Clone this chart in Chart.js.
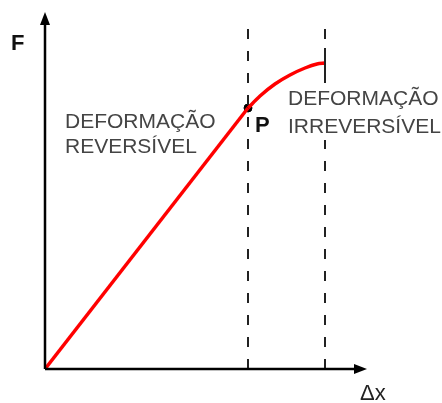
<!DOCTYPE html>
<html>
<head>
<meta charset="utf-8">
<script src="https://cdn.jsdelivr.net/npm/chart.js@4/dist/chart.umd.min.js"></script>
<style>
  body { margin: 0; background: #fff; }
  canvas { display: block; }
</style>
</head>
<body>
<canvas id="forceChart" width="442" height="403"></canvas>
<script>
// straight (reversible) part: origin up to point P
const elasticX = [0, 203];
const elasticF = [0, 261];
// curved (irreversible) part: from P to the end
const plasticX = [203, 215, 230, 245, 260, 272, 280];
const plasticF = [261, 273, 285, 294, 301, 305, 306];
// limits marked with dashed vertical lines
const limitX = [203, 280];
const limitTop = 344;
// short solid stretch of the second limit line, around the end of the curve
const limitMark = [294, 321];
const pointP = { x: 203, y: 261 };

const toPoints = (xs, ys) => xs.map((x, i) => ({ x: x, y: ys[i] }));

// axes with arrow heads and the text labels
const sketchPlugin = {
  id: 'sketch',
  afterDatasetsDraw(chart) {
    const ctx = chart.ctx;
    const xs = chart.scales.x;
    const ys = chart.scales.y;
    const px = (v) => xs.getPixelForValue(v);
    const py = (v) => ys.getPixelForValue(v);
    const x0 = px(0);
    const y0 = py(0);
    const xEnd = px(xs.max);
    const yEnd = py(ys.max);

    ctx.save();
    // the right-hand label sits on a white box that hides the dashed line
    ctx.fillStyle = '#fff';
    ctx.fillRect(px(240), py(285), px(322) - px(240) + 30, py(229) - py(285));

    ctx.strokeStyle = '#000';
    ctx.fillStyle = '#000';
    ctx.lineWidth = 2.5;
    ctx.beginPath();
    ctx.moveTo(x0, y0);
    ctx.lineTo(x0, yEnd + 8);
    ctx.moveTo(x0, y0);
    ctx.lineTo(xEnd - 8, y0);
    ctx.stroke();
    // arrow heads
    ctx.beginPath();
    ctx.moveTo(x0, yEnd);
    ctx.lineTo(x0 - 5, yEnd + 13);
    ctx.lineTo(x0 + 5, yEnd + 13);
    ctx.closePath();
    ctx.fill();
    ctx.beginPath();
    ctx.moveTo(xEnd, y0);
    ctx.lineTo(xEnd - 13, y0 - 5);
    ctx.lineTo(xEnd - 13, y0 + 5);
    ctx.closePath();
    ctx.fill();

    ctx.textBaseline = 'alphabetic';
    ctx.textAlign = 'left';
    ctx.fillStyle = '#111';
    ctx.font = 'bold 22px "Liberation Sans", Arial, sans-serif';
    ctx.fillText('F', px(-34), py(319));
    ctx.fillText('P', px(210), py(237));

    ctx.font = '22px "Liberation Sans", Arial, sans-serif';
    ctx.fillStyle = '#222';
    ctx.fillText('Δx', px(315), py(-31));

    ctx.fillStyle = '#444';
    ctx.font = '21px "Liberation Sans", Arial, sans-serif';
    ctx.fillText('DEFORMAÇÃO', px(20), py(241));
    ctx.fillText('REVERSÍVEL', px(20), py(216));
    ctx.fillText('DEFORMAÇÃO', px(243), py(264));
    ctx.fillText('IRREVERSÍVEL', px(243), py(236));
    ctx.restore();
  }
};

new Chart(document.getElementById('forceChart'), {
  type: 'scatter',
  data: {
    datasets: [
      {
        label: 'limite 1',
        data: [{ x: limitX[0], y: 0 }, { x: limitX[0], y: limitTop }],
        showLine: true,
        borderColor: '#222',
        borderWidth: 2,
        borderDash: [10, 12],
        pointRadius: 0
      },
      {
        label: 'limite 2',
        data: [{ x: limitX[1], y: 0 }, { x: limitX[1], y: limitTop }],
        showLine: true,
        borderColor: '#222',
        borderWidth: 2,
        borderDash: [10, 12],
        pointRadius: 0
      },
      {
        label: 'limite 2 (traço)',
        data: [{ x: limitX[1], y: limitMark[0] }, { x: limitX[1], y: limitMark[1] }],
        showLine: true,
        borderColor: '#222',
        borderWidth: 2,
        pointRadius: 0
      },
      {
        label: 'reversível',
        data: toPoints(elasticX, elasticF),
        showLine: true,
        borderColor: '#ff0000',
        borderWidth: 3.5,
        pointRadius: 0
      },
      {
        label: 'irreversível',
        data: toPoints(plasticX, plasticF),
        showLine: true,
        borderColor: '#ff0000',
        borderWidth: 3.5,
        tension: 0.4,
        cubicInterpolationMode: 'monotone',
        pointRadius: 0
      },
      {
        label: 'P',
        data: [pointP],
        pointRadius: 4,
        pointBackgroundColor: '#000',
        pointBorderColor: '#000'
      }
    ]
  },
  options: {
    responsive: false,
    animation: false,
    layout: { padding: { left: 45, right: 75, top: 12, bottom: 34 } },
    plugins: {
      legend: { display: false },
      tooltip: { enabled: false }
    },
    scales: {
      x: { type: 'linear', min: 0, max: 322, display: false },
      y: { type: 'linear', min: 0, max: 357, display: false }
    },
    elements: { line: { borderCapStyle: 'butt' } }
  },
  plugins: [sketchPlugin]
});
</script>
</body>
</html>
